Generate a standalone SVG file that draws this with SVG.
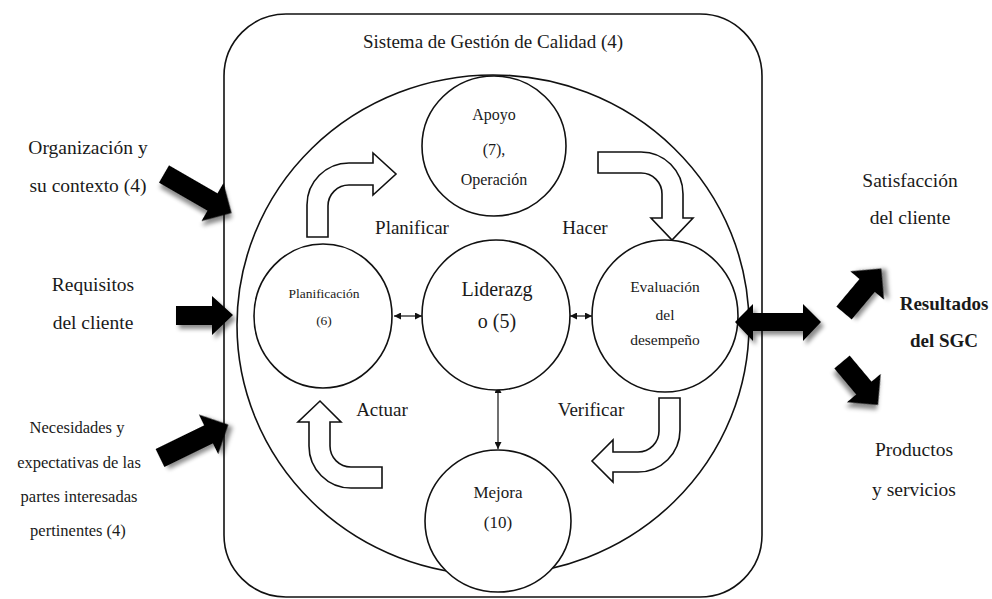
<svg xmlns="http://www.w3.org/2000/svg" width="992" height="599" viewBox="0 0 992 599">
  <defs>
    <style>
      text { font-family: "Liberation Serif", "Times New Roman", serif; fill: #1a1a1a; text-anchor: middle; }
      .frame { fill: none; stroke: #111; stroke-width: 1.6; }
      .node { fill: #fff; stroke: #111; stroke-width: 1.6; }
      .bend { fill: #fff; stroke: #111; stroke-width: 1.6; stroke-linejoin: miter; }
      .solid { fill: #000; filter: url(#shade); }
      .link { stroke: #111; stroke-width: 1.2; fill: none; marker-start: url(#tip); marker-end: url(#tip); }
    </style>
    <filter id="shade" x="-30%" y="-30%" width="160%" height="160%">
      <feDropShadow dx="3" dy="4" stdDeviation="2" flood-color="#000" flood-opacity="0.45"/>
    </filter>
    <marker id="tip" viewBox="0 0 10 10" refX="10" refY="5" markerWidth="7" markerHeight="7" orient="auto-start-reverse" markerUnits="userSpaceOnUse">
      <path d="M0,0 L10,5 L0,10 Z" fill="#111"/>
    </marker>
  </defs>

  <rect width="992" height="599" fill="#fff"/>

  <!-- system boundary -->
  <g id="sistema">
    <rect class="frame" x="224" y="14" width="538" height="583" rx="62" ry="62"/>
    <text x="493" y="48" font-size="19">Sistema de Gestión de Calidad (4)</text>
  </g>

  <!-- PDCA cycle ring -->
  <ellipse class="frame" cx="493" cy="325" rx="256" ry="250"/>

  <!-- cycle stage arrows -->
  <g id="ciclo">
    <path class="bend" d="M307,237 L307,205 A42,42 0 0 1 349,163 L373,163 L373,153 L396,174 L373,195 L373,185 L349,185 A21,21 0 0 0 328,206 L328,237 Z"/>
    <path class="bend" d="M598,152 L641,152 A42,42 0 0 1 683,194 L683,218 L693,218 L672,240 L651,218 L662,218 L662,194 A21,21 0 0 0 641,173 L598,173 Z"/>
    <path class="bend" d="M680,398 L680,430 A42,42 0 0 1 638,472 L613,472 L613,482 L592,461 L613,440 L613,452 L638,452 A21,21 0 0 0 659,431 L659,398 Z"/>
    <path class="bend" d="M382,488 L351,488 A42,42 0 0 1 309,446 L309,422 L298,422 L320,401 L341,422 L330,422 L330,446 A21,21 0 0 0 351,467 L382,467 Z"/>
    <text x="412" y="234" font-size="19">Planificar</text>
    <text x="585" y="234" font-size="19">Hacer</text>
    <text x="382" y="416" font-size="19">Actuar</text>
    <text x="591" y="416" font-size="19">Verificar</text>
  </g>

  <!-- connectors -->
  <g id="conectores">
    <line class="link" x1="394" y1="316" x2="422" y2="316"/>
    <line class="link" x1="570" y1="316" x2="592" y2="316"/>
    <line class="link" x1="498" y1="386" x2="498" y2="449"/>
  </g>

  <g id="apoyo">
    <ellipse class="node" cx="494" cy="146" rx="72" ry="70"/>
    <text x="494" y="120" font-size="16">Apoyo</text>
    <text x="494" y="155" font-size="16">(7),</text>
    <text x="494" y="185" font-size="16">Operación</text>
  </g>

  <g id="planificacion">
    <ellipse class="node" cx="323" cy="316" rx="69" ry="72"/>
    <text x="324" y="298" font-size="13.5">Planificación</text>
    <text x="324" y="325" font-size="13.5">(6)</text>
  </g>

  <g id="liderazgo">
    <ellipse class="node" cx="496" cy="315" rx="74" ry="75"/>
    <text x="497" y="296" font-size="20">Liderazg</text>
    <text x="497" y="328" font-size="20">o (5)</text>
  </g>

  <g id="evaluacion">
    <ellipse class="node" cx="665" cy="316" rx="73" ry="76"/>
    <text x="665" y="292" font-size="15.5">Evaluación</text>
    <text x="665" y="320" font-size="15.5">del</text>
    <text x="665" y="345" font-size="15.5">desempeño</text>
  </g>

  <g id="mejora">
    <ellipse class="node" cx="498" cy="521" rx="73" ry="71"/>
    <text x="498" y="498" font-size="17">Mejora</text>
    <text x="498" y="528" font-size="17">(10)</text>
  </g>

  <!-- inputs -->
  <g id="entrada-contexto">
    <path class="solid" transform="translate(164,174) rotate(30)" d="M0,-10 L56,-10 L56,-22 L78,0 L56,22 L56,10 L0,10 Z"/>
    <text x="88" y="154" font-size="19.5">Organización y</text>
    <text x="88" y="192" font-size="19.5">su contexto (4)</text>
  </g>

  <g id="entrada-requisitos">
    <path class="solid" d="M176,306 L212,306 L212,296 L233,315 L212,335 L212,325 L176,325 Z"/>
    <text x="93" y="291" font-size="19.5">Requisitos</text>
    <text x="93" y="329" font-size="19.5">del cliente</text>
  </g>

  <g id="entrada-partes">
    <path class="solid" transform="translate(160,458) rotate(-26)" d="M0,-10 L54,-10 L54,-22 L76,0 L54,22 L54,10 L0,10 Z"/>
    <text x="77" y="433" font-size="16.5">Necesidades y</text>
    <text x="79" y="468" font-size="16.5">expectativas de las</text>
    <text x="79" y="502" font-size="16.5">partes interesadas</text>
    <text x="78" y="536" font-size="16.5">pertinentes (4)</text>
  </g>

  <!-- outputs -->
  <g id="resultados">
    <path class="solid" d="M735,322 L753,304 L753,313 L803,313 L803,304 L821,322 L803,341 L803,331 L753,331 L753,341 Z"/>
    <path class="solid" transform="translate(844,313) rotate(-50)" d="M0,-10 L36,-10 L36,-22 L58,0 L36,22 L36,10 L0,10 Z"/>
    <path class="solid" transform="translate(842,362) rotate(50)" d="M0,-10 L34,-10 L34,-22 L56,0 L34,22 L34,10 L0,10 Z"/>
    <text x="944" y="310" font-size="19" font-weight="bold">Resultados</text>
    <text x="944" y="347" font-size="19" font-weight="bold">del SGC</text>
  </g>

  <g id="satisfaccion">
    <text x="910" y="187" font-size="19.5">Satisfacción</text>
    <text x="910" y="224" font-size="19.5">del cliente</text>
  </g>

  <g id="productos">
    <text x="914" y="456" font-size="19.5">Productos</text>
    <text x="914" y="496" font-size="19.5">y servicios</text>
  </g>
</svg>
